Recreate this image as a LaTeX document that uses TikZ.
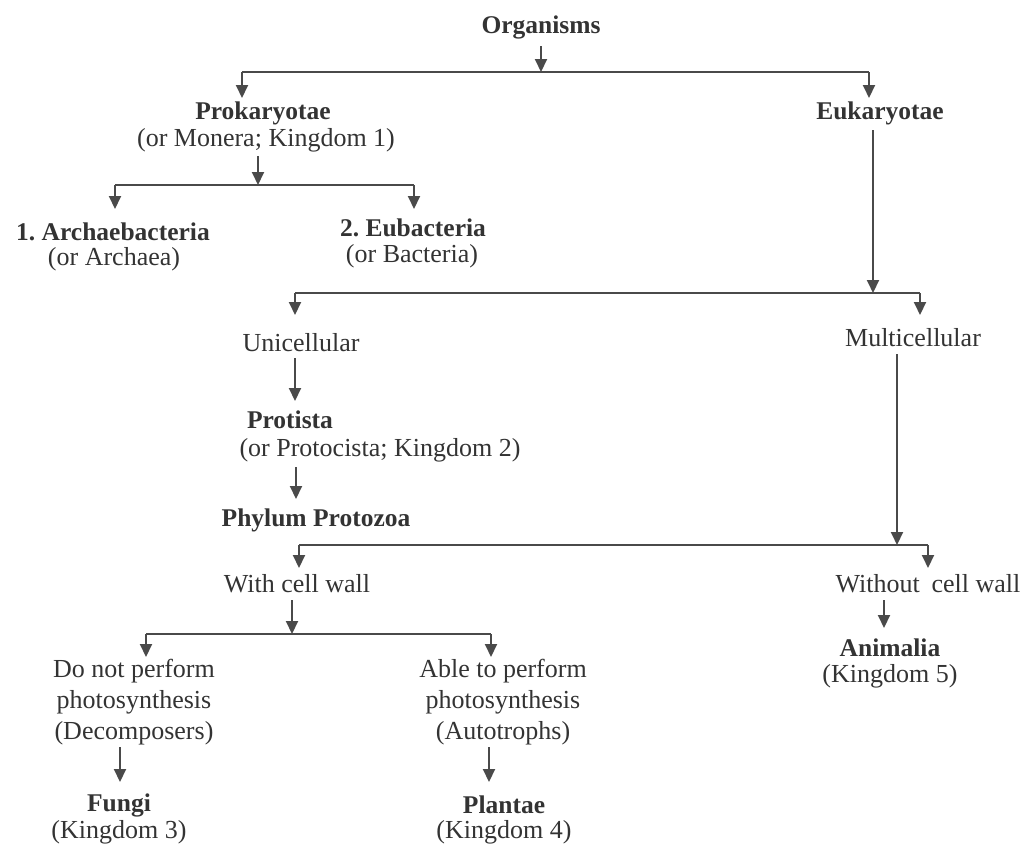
\documentclass[tikz,border=0pt]{standalone}
\usepackage{fontspec}
\setmainfont{Liberation Serif}
\usetikzlibrary{arrows.meta}
\definecolor{ink}{HTML}{333333}
\definecolor{wire}{HTML}{4A4A4A}
\frenchspacing
\tikzset{
  txt/.style={inner sep=0pt, text=ink, font=\fontsize{26}{30}\selectfont},
  btxt/.style={txt, font=\fontsize{25.5}{30}\selectfont\bfseries},
  wireline/.style={draw=wire, line width=2pt},
  arr/.style={wireline, -{Triangle[length=13pt,width=12pt]}},
}
\begin{document}
\begin{tikzpicture}[x=1pt,y=-1pt]
\useasboundingbox (0,0) rectangle (1025,846);
% texts
\node[btxt] (org) at (541,27) {Organisms};
\node[btxt] (prok) at (263,113) {Prokaryotae};
\node[txt] (monera) at (266,140) {(or Monera; Kingdom 1)};
\node[btxt] (euk) at (880,113) {Eukaryotae};
\node[btxt] (arch) at (113,232) {1. Archaebacteria};
\node[txt] (archa) at (114,259) {(or Archaea)};
\node[btxt] (eub) at (413,228) {2. Eubacteria};
\node[txt] (bact) at (412,256) {(or Bacteria)};
\node[txt] (uni) at (301,343) {Unicellular};
\node[txt] (multi) at (913,338) {Multicellular};
\node[btxt] (prot) at (290,420) {Protista};
\node[txt] (protoc) at (380,450) {(or Protocista; Kingdom 2)};
\node[btxt] (phyl) at (316,520) {Phylum Protozoa};
\node[txt] (withcw) at (297,584) {With cell wall};
\node[txt] (without) at (928,584) {Without\hspace{0.45em}cell wall};
\node[txt, align=center, font=\fontsize{26}{31}\selectfont] (decomp) at (134,702) {Do not perform\\photosynthesis\\(Decomposers)};
\node[txt, align=center, font=\fontsize{26}{31}\selectfont] (auto) at (503,702) {Able to perform\\photosynthesis\\(Autotrophs)};
\node[btxt] (fungi) at (119,805) {Fungi};
\node[txt] (k3) at (119,832) {(Kingdom 3)};
\node[btxt] (plant) at (504,805) {Plantae};
\node[txt] (k4) at (504,832) {(Kingdom 4)};
\node[btxt] (anim) at (890,648) {Animalia};
\node[txt] (k5) at (890,676) {(Kingdom 5)};
% junction coordinates
\coordinate (j1) at (541,72);
\coordinate (h1L) at (242,72);
\coordinate (h1R) at (869,72);
\coordinate (j2) at (258,185);
\coordinate (h2L) at (115,185);
\coordinate (h2R) at (414,185);
\coordinate (j3) at (873,293);
\coordinate (h3L) at (295,293);
\coordinate (h3R) at (920,293);
\coordinate (j4) at (897,545);
\coordinate (h4L) at (299,545);
\coordinate (h4R) at (928,545);
\coordinate (j5) at (292,634);
\coordinate (h5L) at (146,634);
\coordinate (h5R) at (491,634);
% tips
\coordinate (t1L) at (242,98);
\coordinate (t1R) at (869,98);
\coordinate (t2L) at (115,209);
\coordinate (t2R) at (414,209);
\coordinate (t3L) at (295,315);
\coordinate (t3R) at (920,315);
\coordinate (t4L) at (299,568);
\coordinate (t4R) at (928,568);
\coordinate (t5L) at (146,657);
\coordinate (t5R) at (491,657);
% connectors
\draw[arr] (541,46) -- (j1);
\draw[wireline] (h1L) -- (h1R);
\draw[arr] (h1L) -- (t1L);
\draw[arr] (h1R) -- (t1R);
\draw[arr] (258,156) -- (j2);
\draw[wireline] (h2L) -- (h2R);
\draw[arr] (h2L) -- (t2L);
\draw[arr] (h2R) -- (t2R);
\draw[arr] (873,130) -- (j3);
\draw[wireline] (h3L) -- (h3R);
\draw[arr] (h3L) -- (t3L);
\draw[arr] (h3R) -- (t3R);
\draw[arr] (295,358) -- (295,401);
\draw[arr] (296,467) -- (296,499);
\draw[arr] (897,354) -- (j4);
\draw[wireline] (h4L) -- (h4R);
\draw[arr] (h4L) -- (t4L);
\draw[arr] (h4R) -- (t4R);
\draw[arr] (292,600) -- (j5);
\draw[wireline] (h5L) -- (h5R);
\draw[arr] (h5L) -- (t5L);
\draw[arr] (h5R) -- (t5R);
\draw[arr] (884,600) -- (884,628);
\draw[arr] (120,747) -- (120,782);
\draw[arr] (489,747) -- (489,782);
\end{tikzpicture}
\end{document}
